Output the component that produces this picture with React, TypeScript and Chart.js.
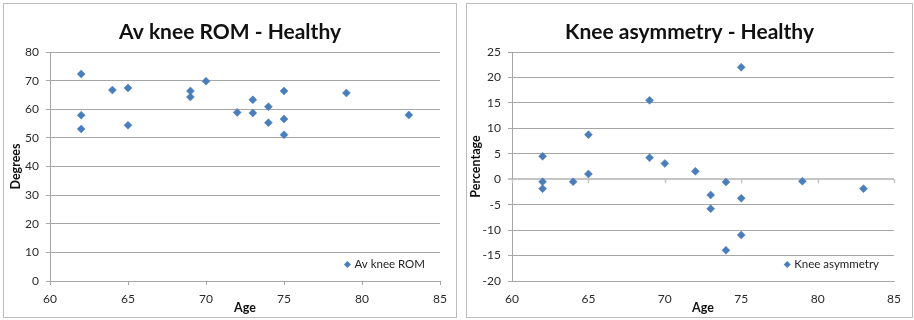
import React, { useEffect, useRef } from "react";
import { Chart, registerables } from "chart.js";

Chart.register(...registerables);

const ages = [62, 62, 62, 64, 65, 65, 69, 69, 70, 72, 73, 73, 74, 74, 75, 75, 75, 79, 83];
const romValues = [72.3, 57.9, 53.1, 66.7, 67.4, 54.4, 66.4, 64.3, 69.8, 58.9, 63.3, 58.7, 60.9, 55.3, 66.4, 56.6, 51.1, 65.7, 58.0];
const asymValues = [4.5, -0.5, -1.85, -0.5, 8.76, 1.03, 15.5, 4.24, 3.1, 1.55, -3.1, -5.8, -0.55, -13.97, 22.0, -3.75, -10.96, -0.4, -1.85];

const FONT = "Lato, 'Open Sans', sans-serif";
const MARKER = "#4a7ebb";
const GRID = "#a6a6a6";
const ZERO = "#c4c4c4";

type Cfg = {
  title: string;
  label: string;
  yTitle: string;
  values: number[];
  yMin: number;
  yMax: number;
  yStep: number;
  width: number;
  height: number;
  rightPad: number;
  yAxisWidth: number;
  yTitlePad: number;
  zeroAxis: boolean;
};

const titlePlugin = (text: string) => ({
  id: "customTitle",
  afterDraw(chart: any) {
    const ctx = chart.ctx;
    ctx.save();
    ctx.font = `bold 21px ${FONT}`;
    ctx.fillStyle = "#111";
    ctx.textAlign = "center";
    ctx.textBaseline = "alphabetic";
    ctx.fillText(text, chart.width / 2, 35);
    ctx.restore();
  },
});

const legendPlugin = {
  id: "insideLegend",
  afterDraw(chart: any) {
    const ctx = chart.ctx;
    const area = chart.chartArea;
    const ds = chart.data.datasets[0];
    ctx.save();
    ctx.font = `11.5px ${FONT}`;
    ctx.fillStyle = "#222";
    ctx.textAlign = "right";
    ctx.textBaseline = "middle";
    const xr = area.right - 15;
    const y = area.bottom - 16.5;
    ctx.fillText(ds.label, xr, y);
    const w = ctx.measureText(ds.label).width;
    const mx = xr - w - 7;
    ctx.fillStyle = MARKER;
    ctx.beginPath();
    ctx.moveTo(mx, y - 3.5);
    ctx.lineTo(mx + 3.5, y);
    ctx.lineTo(mx, y + 3.5);
    ctx.lineTo(mx - 3.5, y);
    ctx.closePath();
    ctx.fill();
    ctx.restore();
  },
};

const zeroAxisPlugin = {
  id: "zeroAxis",
  beforeDatasetsDraw(chart: any) {
    const ys = chart.scales.y;
    const xs = chart.scales.x;
    const y0 = ys.getPixelForValue(0);
    const ctx = chart.ctx;
    ctx.save();
    ctx.strokeStyle = ZERO;
    ctx.lineWidth = 1.5;
    for (const t of xs.ticks) {
      const x = Math.round(xs.getPixelForValue(t.value)) + 0.5;
      ctx.beginPath();
      ctx.moveTo(x, y0);
      ctx.lineTo(x, y0 + 4);
      ctx.stroke();
    }
    ctx.restore();
  },
};

function ScatterBox(props: { cfg: Cfg; style: React.CSSProperties }) {
  const ref = useRef<HTMLCanvasElement>(null);
  const { cfg } = props;
  useEffect(() => {
    if (!ref.current) return;
    const plugins: any[] = [titlePlugin(cfg.title), legendPlugin];
    if (cfg.zeroAxis) plugins.push(zeroAxisPlugin);
    const chart = new Chart(ref.current, {
      type: "scatter",
      data: {
        datasets: [
          {
            label: cfg.label,
            data: ages.map((a, i) => ({ x: a, y: cfg.values[i] })),
            pointStyle: "rectRot",
            pointRadius: 4,
            pointBackgroundColor: MARKER,
            pointBorderColor: MARKER,
            pointBorderWidth: 0.5,
          },
        ],
      },
      options: {
        responsive: false,
        animation: false,
        devicePixelRatio: 1,
        layout: { padding: { top: 48, right: cfg.rightPad, bottom: 0, left: 0 } },
        plugins: { legend: { display: false }, title: { display: false }, tooltip: { enabled: false } },
        scales: {
          x: {
            type: "linear",
            min: 60,
            max: 85,
            ticks: { stepSize: 5, color: "#2a2a2a", font: { family: FONT, size: 12 }, padding: cfg.zeroAxis ? 11 : 7 },
            grid: { drawOnChartArea: false, drawTicks: !cfg.zeroAxis, tickLength: 4, color: GRID },
            border: { display: true, color: GRID },
            title: { display: true, text: "Age", color: "#111", font: { family: FONT, size: 12.5, weight: "bold" }, padding: { top: 0, bottom: 2 } },
            afterFit: (s: any) => { s.height = 36; },
          },
          y: {
            min: cfg.yMin,
            max: cfg.yMax,
            ticks: { stepSize: cfg.yStep, color: "#2a2a2a", font: { family: FONT, size: 12 }, padding: 7 },
            grid: {
              drawTicks: true,
              tickLength: 4,
              color: (c: any) => (cfg.zeroAxis && c.tick && c.tick.value === 0 ? ZERO : GRID),
              lineWidth: (c: any) => (cfg.zeroAxis && c.tick && c.tick.value === 0 ? 2 : 1),
            },
            border: { display: true, color: GRID },
            title: { display: true, text: cfg.yTitle, color: "#111", font: { family: FONT, size: 12.5, weight: "bold" }, padding: { top: cfg.yTitlePad, bottom: 0 } },
            afterFit: (s: any) => { s.width = cfg.yAxisWidth; },
          },
        },
      } as any,
      plugins,
    });
    return () => chart.destroy();
  }, []);
  return (
    <div style={{ position: "absolute", boxSizing: "border-box", border: "1px solid #bdbdbd", background: "#fff", ...props.style }}>
      <canvas ref={ref} width={cfg.width} height={cfg.height} style={{ display: "block" }} />
    </div>
  );
}

export default function App() {
  const left: Cfg = {
    title: "Av knee ROM - Healthy",
    label: "Av knee ROM",
    yTitle: "Degrees",
    values: romValues,
    yMin: 0,
    yMax: 80,
    yStep: 10,
    width: 452,
    height: 313,
    rightPad: 16,
    yAxisWidth: 46,
    yTitlePad: 4,
    zeroAxis: false,
  };
  const right: Cfg = {
    title: "Knee asymmetry - Healthy",
    label: "Knee asymmetry",
    yTitle: "Percentage",
    values: asymValues,
    yMin: -20,
    yMax: 25,
    yStep: 5,
    width: 445,
    height: 313,
    rightPad: 10,
    yAxisWidth: 45,
    yTitlePad: 1,
    zeroAxis: true,
  };
  return (
    <div style={{ position: "absolute", left: 0, top: 0, width: 914, height: 320, background: "#fff" }}>
      <ScatterBox cfg={left} style={{ left: 3, top: 3, width: 454, height: 315 }} />
      <ScatterBox cfg={right} style={{ left: 466, top: 3, width: 447, height: 315 }} />
    </div>
  );
}
